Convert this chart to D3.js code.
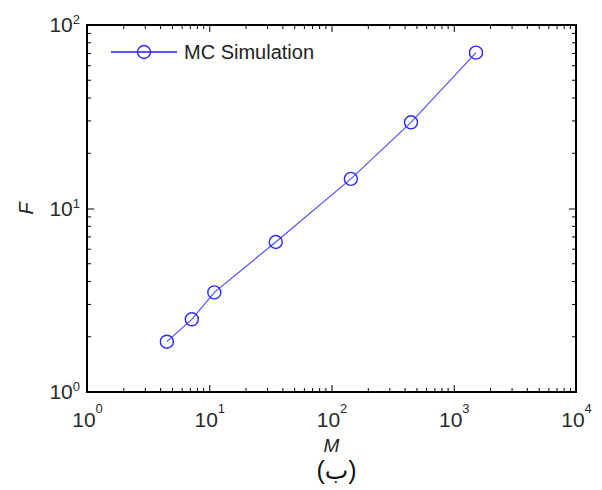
<!DOCTYPE html>
<html>
<head>
<meta charset="utf-8">
<script src="https://cdn.jsdelivr.net/npm/d3@7"></script>
<style>
  body { margin: 0; background: #fff; }
  svg  { display: block; }
  text { font-family: 'Liberation Sans', Arial, 'DejaVu Sans', sans-serif; }
</style>
</head>
<body>
<svg id="chart" width="602" height="490"></svg>
<script>
'use strict';

// data
const mValues = [4.5, 7.2, 11, 35, 144, 447, 1520];
const fValues = [1.88, 2.49, 3.49, 6.57, 14.5, 29.5, 70.7];

// axes
const xTicks = [1, 10, 100, 1000, 10000];
const yTicks = [1, 10, 100];
const seriesName = 'MC Simulation';
const xLabel = 'M';
const yLabel = 'F';
const caption = '(ب)';

const margin = { top: 25, right: 26, bottom: 98, left: 87 };
const width  = 602 - margin.left - margin.right,
      height = 490 - margin.top - margin.bottom;

const data = d3.zip( mValues, fValues ).map( (d) => ({ m: d[0], f: d[1] }) );

// scales
const x = d3.scaleLog()
            .domain([ xTicks[0], xTicks[xTicks.length - 1] ])
            .range([ 0, width ]);

const y = d3.scaleLog()
            .domain([ yTicks[0], yTicks[yTicks.length - 1] ])
            .range([ height, 0 ]);

const svg = d3.select('#chart')
            .append('g')
              .attr('transform', `translate(${margin.left},${margin.top})`);

// minor ticks 2..9 in every decade
function minors( ticks ) {
  const out = [];
  for( let i = 0; i < ticks.length - 1; i++ ) {
    for( let k = 2; k <= 9; k++ ) out.push( ticks[i] * k );
  }
  return out;
}

// write 10^n as base + raised exponent
function powerLabel( sel, rise ) {
  sel.selectAll('.tick text').each( function(d) {
    const t = d3.select(this);
    t.text('10')
      .style('font-size', '21px')
      .attr('fill', '#2a2a2a');
    t.append('tspan')
      .attr('dy', -rise)
      .style('font-size', '13px')
      .text( Math.round( Math.log10(d) ) );
  });
}

// bottom axis
svg.append('g')
    .attr('class', 'x axis')
    .attr('transform', `translate(0,${height})`)
    .call( d3.axisBottom(x).tickValues(xTicks).tickSizeInner(-7).tickSizeOuter(0).tickPadding(20) )
    .call( (g) => powerLabel(g, 14) );

// left axis
svg.append('g')
    .attr('class', 'y axis')
    .call( d3.axisLeft(y).tickValues(yTicks).tickSizeInner(-7).tickSizeOuter(0).tickPadding(7) )
    .call( (g) => powerLabel(g, 8) );

// top / right ticks without labels
svg.append('g')
    .call( d3.axisTop(x).tickValues(xTicks).tickSizeInner(-7).tickSizeOuter(0).tickFormat('') );
svg.append('g')
    .attr('transform', `translate(${width},0)`)
    .call( d3.axisRight(y).tickValues(yTicks).tickSizeInner(-7).tickSizeOuter(0).tickFormat('') );

svg.selectAll('.domain').remove();
svg.selectAll('.tick line').attr('stroke', '#000');

// minor ticks on all four sides
const xm = minors(xTicks), ym = minors(yTicks);
const minor = svg.append('g').attr('stroke', '#000').attr('stroke-width', 1);
minor.selectAll('.xb').data(xm).enter().append('line')
    .attr('x1', (d) => x(d)).attr('x2', (d) => x(d)).attr('y1', height).attr('y2', height - 4);
minor.selectAll('.xt').data(xm).enter().append('line')
    .attr('x1', (d) => x(d)).attr('x2', (d) => x(d)).attr('y1', 0).attr('y2', 4);
minor.selectAll('.yl').data(ym).enter().append('line')
    .attr('y1', (d) => y(d)).attr('y2', (d) => y(d)).attr('x1', 0).attr('x2', 4);
minor.selectAll('.yr').data(ym).enter().append('line')
    .attr('y1', (d) => y(d)).attr('y2', (d) => y(d)).attr('x1', width).attr('x2', width - 4);

// box
svg.append('rect')
    .attr('width', width)
    .attr('height', height)
    .attr('fill', 'none')
    .attr('stroke', '#000')
    .attr('stroke-width', 2);

// series
const line = d3.line()
                .x( (d) => x(d.m) )
                .y( (d) => y(d.f) );

svg.append('path')
    .datum(data)
    .attr('d', line)
    .attr('fill', 'none')
    .attr('stroke', '#4a4aff')
    .attr('stroke-width', 1.1);

svg.selectAll('.pt')
    .data(data)
  .enter().append('circle')
    .attr('class', 'pt')
    .attr('cx', (d) => x(d.m))
    .attr('cy', (d) => y(d.f))
    .attr('r', 6.5)
    .attr('fill', 'none')
    .attr('stroke', '#2b2bff')
    .attr('stroke-width', 1.4);

// legend
const legend = svg.append('g').attr('transform', 'translate(24,27)');
legend.append('line')
    .attr('x1', 0).attr('x2', 66)
    .attr('stroke', '#1a1aff')
    .attr('stroke-width', 1.5);
legend.append('circle')
    .attr('cx', 33)
    .attr('r', 6.5)
    .attr('fill', 'none')
    .attr('stroke', '#2b2bff')
    .attr('stroke-width', 1.4);
legend.append('text')
    .attr('x', 73)
    .attr('y', 7)
    .style('font-size', '20px')
    .attr('fill', '#222')
    .text(seriesName);

// axis titles
svg.append('text')
    .attr('x', width / 2)
    .attr('y', height + 60)
    .attr('text-anchor', 'middle')
    .style('font-size', '19px')
    .style('font-style', 'italic')
    .attr('fill', '#222')
    .text(xLabel);

svg.append('text')
    .attr('transform', `translate(${-54},${y(10)}) rotate(-90)`)
    .attr('text-anchor', 'middle')
    .style('font-size', '20px')
    .style('font-style', 'italic')
    .attr('fill', '#222')
    .text(yLabel);

// caption
svg.append('text')
    .attr('x', width / 2 + 5)
    .attr('y', height + 87)
    .attr('text-anchor', 'middle')
    .style('font-size', '25px')
    .attr('fill', '#111')
    .text(caption);
</script>
</body>
</html>
